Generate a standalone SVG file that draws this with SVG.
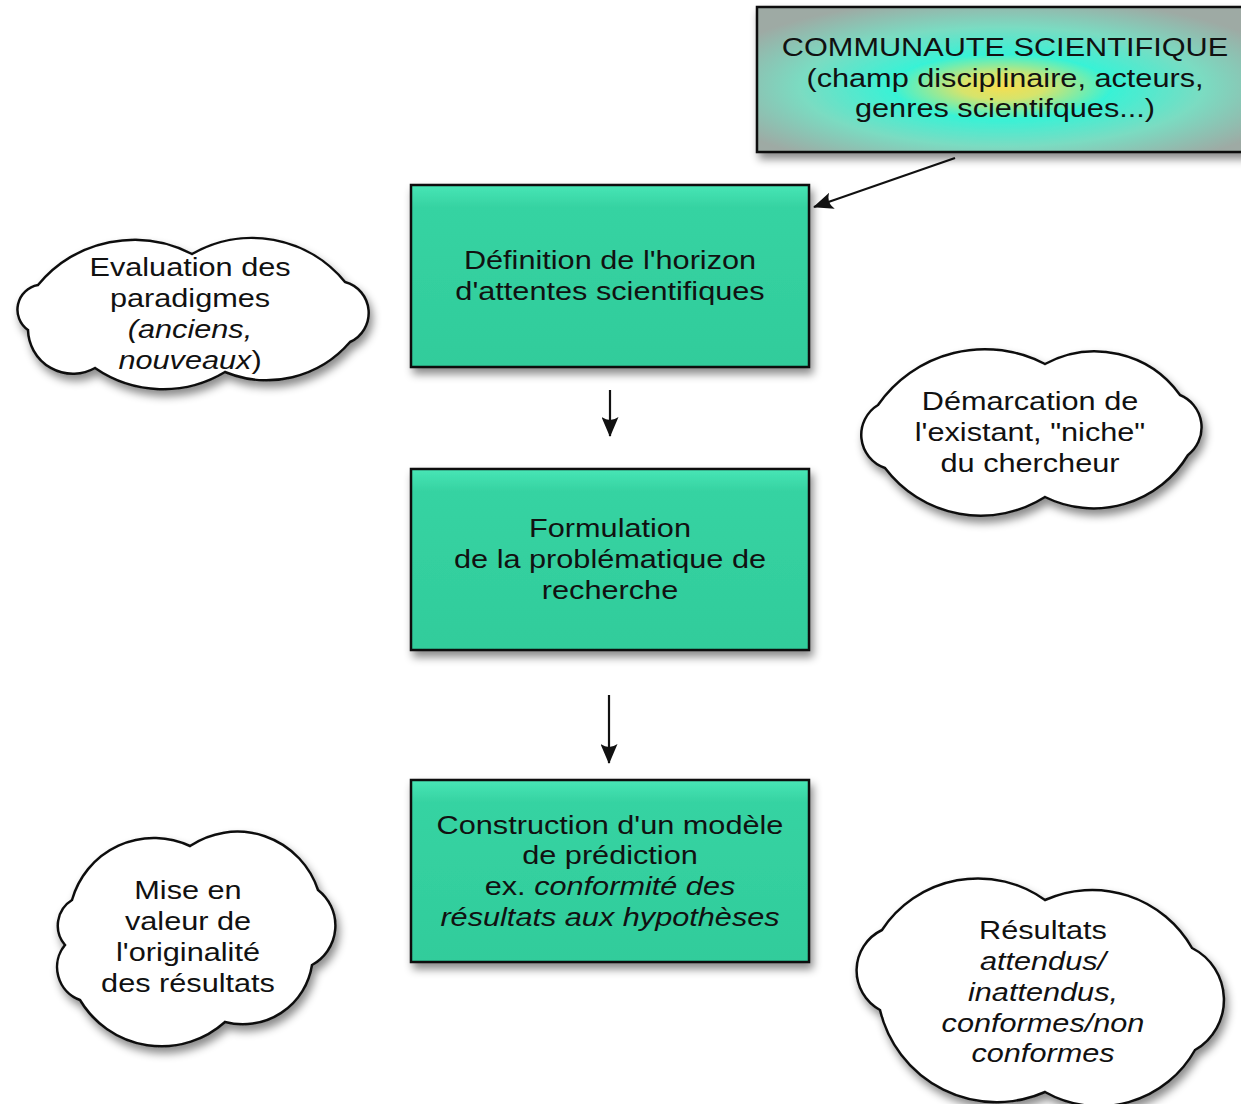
<svg xmlns="http://www.w3.org/2000/svg" width="1241" height="1104" viewBox="0 0 1241 1104">
<defs>
<style>
.t{font-family:"Liberation Sans",Arial,sans-serif;font-size:26px;fill:#111;text-anchor:middle}
.i{font-style:italic}
.box{fill:url(#boxg);stroke:#111;stroke-width:2.5}
.cloud{fill:#fff;stroke:#111;stroke-width:2.5}
.con{stroke:#111;stroke-width:2.2;fill:none}
</style>
<linearGradient id="boxg" x1="0" y1="0" x2="0" y2="1">
<stop offset="0" stop-color="#48e6b6"/>
<stop offset="0.12" stop-color="#36d3a2"/>
<stop offset="1" stop-color="#31cc9b"/>
</linearGradient>
<radialGradient id="topg" cx="0.5" cy="0.55" r="0.62">
<stop offset="0" stop-color="#f5de50"/>
<stop offset="0.14" stop-color="#d6e46c"/>
<stop offset="0.36" stop-color="#38f2d6"/>
<stop offset="0.66" stop-color="#7adcc2"/>
<stop offset="1" stop-color="#9eaaa4"/>
</radialGradient>
<filter id="sh" x="-10%" y="-10%" width="125%" height="130%">
<feDropShadow dx="3" dy="6" stdDeviation="4" flood-color="#000" flood-opacity="0.45"/>
</filter>
<marker id="ahb" markerWidth="20" markerHeight="17" refX="19" refY="8.5" orient="auto" markerUnits="userSpaceOnUse" viewBox="0 0 20 17">
<path d="M0,0 Q6,8.5 0,17 L20,8.5 z" fill="#111"/>
</marker>
</defs>
<rect width="1241" height="1104" fill="#fff"/>

<g id="connectors">
<line class="con" x1="955" y1="158" x2="814" y2="207" marker-end="url(#ahb)"/>
<line class="con" x1="610" y1="390" x2="610" y2="436" marker-end="url(#ahb)"/>
<line class="con" x1="609" y1="695" x2="609" y2="763" marker-end="url(#ahb)"/>
</g>

<g id="communaute">
<rect x="757" y="7" width="490" height="145" fill="url(#topg)" stroke="#111" stroke-width="2.5" filter="url(#sh)"/>
<g transform="translate(1005 0) scale(1.18 1)">
<text class="t" x="0" y="56">COMMUNAUTE SCIENTIFIQUE</text>
<text class="t" x="0" y="87">(champ disciplinaire, acteurs,</text>
<text class="t" x="0" y="117">genres scientifques...)</text>
</g>
</g>

<g id="definition">
<rect class="box" x="411" y="185" width="398" height="182" filter="url(#sh)"/>
<g transform="translate(610 0) scale(1.18 1)">
<text class="t" x="0" y="269">Définition de l'horizon</text>
<text class="t" x="0" y="300">d'attentes scientifiques</text>
</g>
</g>

<g id="formulation">
<rect class="box" x="411" y="469" width="398" height="181" filter="url(#sh)"/>
<g transform="translate(610 0) scale(1.18 1)">
<text class="t" x="0" y="537">Formulation</text>
<text class="t" x="0" y="568">de la problématique de</text>
<text class="t" x="0" y="599">recherche</text>
</g>
</g>

<g id="construction">
<rect class="box" x="411" y="780" width="398" height="182" filter="url(#sh)"/>
<g transform="translate(610 0) scale(1.18 1)">
<text class="t" x="0" y="834">Construction d'un modèle</text>
<text class="t" x="0" y="864">de prédiction</text>
<text class="t" x="0" y="895">ex. <tspan class="i">conformité des</tspan></text>
<text class="t i" x="0" y="926">résultats aux hypothèses</text>
</g>
</g>

<g id="evaluation">
<path class="cloud" filter="url(#sh)" d="M38 285 A125 125 0 0 1 192 254 A120 120 0 0 1 345 282 A32 32 0 0 1 350 342 A110 110 0 0 1 225 372 A120 120 0 0 1 95 368 A45 45 0 0 1 28 330 A25 25 0 0 1 38 285 Z"/>
<g transform="translate(190 0) scale(1.18 1)">
<text class="t" x="0" y="276">Evaluation des</text>
<text class="t" x="0" y="307">paradigmes</text>
<text class="t i" x="0" y="338">(anciens,</text>
<text class="t" x="0" y="369"><tspan class="i">nouveaux</tspan>)</text>
</g>
</g>

<g id="demarcation">
<path class="cloud" filter="url(#sh)" d="M878 405 A130 130 0 0 1 1045 364 A105 105 0 0 1 1180 395 A35 35 0 0 1 1188 455 A110 110 0 0 1 1045 497 A120 120 0 0 1 885 468 A35 35 0 0 1 878 405 Z"/>
<g transform="translate(1030 0) scale(1.18 1)">
<text class="t" x="0" y="410">Démarcation de</text>
<text class="t" x="0" y="441">l'existant, "niche"</text>
<text class="t" x="0" y="472">du chercheur</text>
</g>
</g>

<g id="mise-en-valeur">
<path class="cloud" filter="url(#sh)" d="M72 900 A85 85 0 0 1 190 846 A85 85 0 0 1 318 890 A45 45 0 0 1 312 965 A70 70 0 0 1 225 1022 A95 95 0 0 1 80 1000 A35 35 0 0 1 65 945 A30 30 0 0 1 72 900 Z"/>
<g transform="translate(188 0) scale(1.18 1)">
<text class="t" x="0" y="899">Mise en</text>
<text class="t" x="0" y="930">valeur de</text>
<text class="t" x="0" y="961">l'originalité</text>
<text class="t" x="0" y="992">des résultats</text>
</g>
</g>

<g id="resultats">
<path class="cloud" filter="url(#sh)" d="M882 930 A115 115 0 0 1 1045 900 A115 115 0 0 1 1192 948 A58 58 0 0 1 1195 1050 A110 110 0 0 1 1045 1092 A120 120 0 0 1 880 1010 A45 45 0 0 1 882 930 Z"/>
<g transform="translate(1043 0) scale(1.18 1)">
<text class="t" x="0" y="939">Résultats</text>
<text class="t i" x="0" y="970">attendus/</text>
<text class="t i" x="0" y="1001">inattendus,</text>
<text class="t i" x="0" y="1032">conformes/non</text>
<text class="t i" x="0" y="1062">conformes</text>
</g>
</g>
</svg>
